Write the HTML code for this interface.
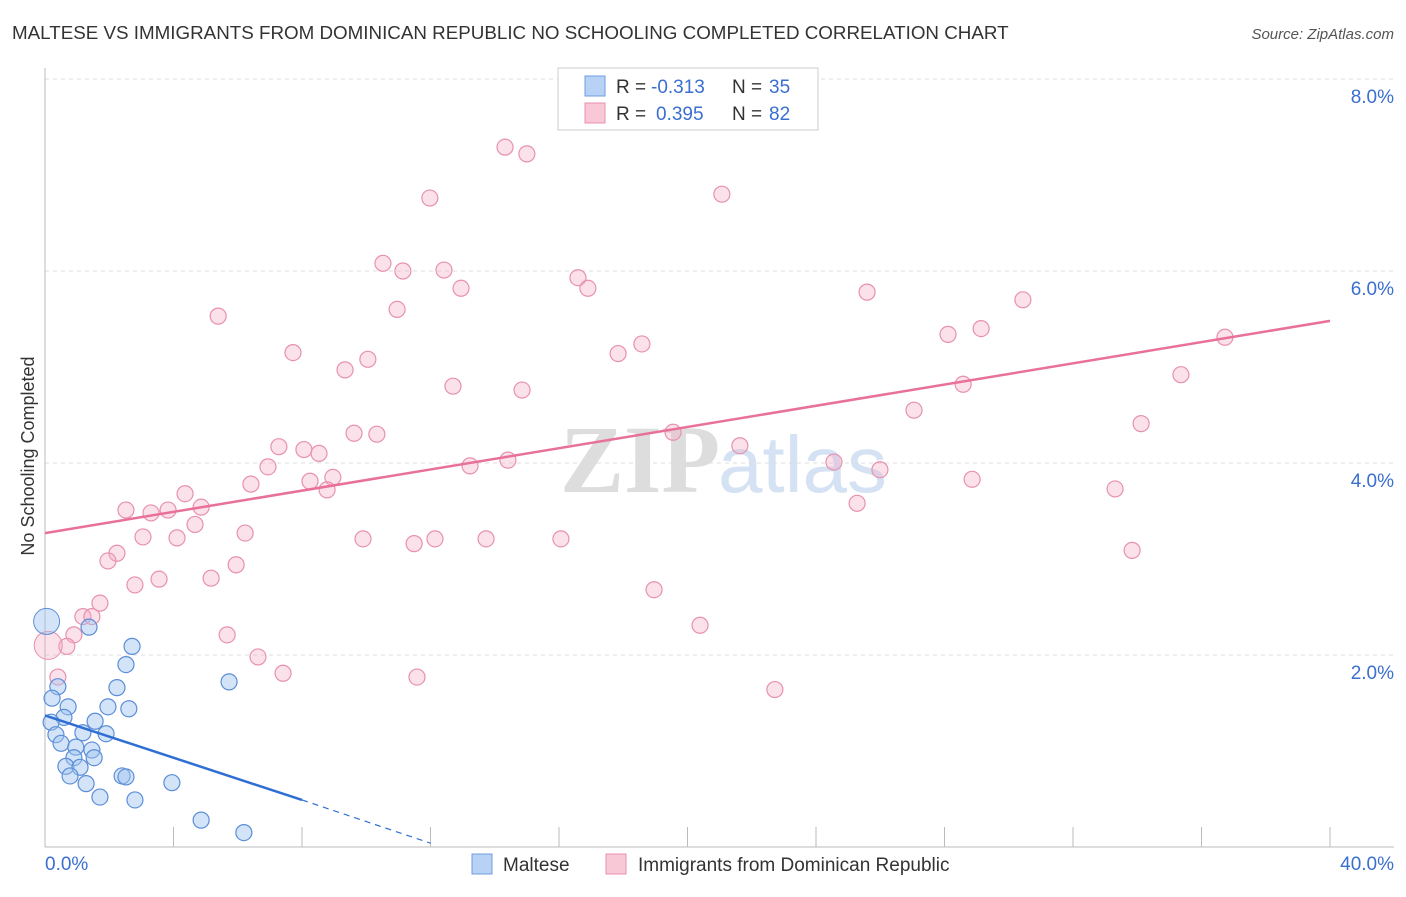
<!DOCTYPE html>
<html><head><meta charset="utf-8"><style>
body{margin:0;background:#fff;font-family:"Liberation Sans",sans-serif}
</style></head><body>
<svg id="c" width="1406" height="892" xmlns="http://www.w3.org/2000/svg">
<text x="12" y="39" font-size="18.8" fill="#333">MALTESE VS IMMIGRANTS FROM DOMINICAN REPUBLIC NO SCHOOLING COMPLETED CORRELATION CHART</text>
<text x="1394" y="39" font-size="15" fill="#555" font-style="italic" text-anchor="end">Source: ZipAtlas.com</text>
<text x="720" y="492" font-size="96" fill="#ddd" text-anchor="end" font-family="Liberation Serif" font-weight="bold">ZIP</text>
<text x="718" y="492" font-size="80" fill="#d4e2f4">atlas</text>
<text transform="translate(34,456) rotate(-90)" font-size="18" fill="#333" text-anchor="middle">No Schooling Completed</text>
<g id="grid"></g><g id="marks"></g>
<g>
<rect x="558" y="68" width="260" height="62" fill="#fff" stroke="#ccc"/>
<rect x="585" y="76" width="20" height="20" fill="#b8d2f5" stroke="#6d9de0"/>
<rect x="585" y="103" width="20" height="20" fill="#f8c8d6" stroke="#e891ad"/>
<text x="616" y="93" font-size="19" fill="#333">R =</text>
<text x="651" y="93" font-size="19" fill="#3a6fd0">-0.313</text>
<text x="732" y="93" font-size="19" fill="#333">N =</text>
<text x="769" y="93" font-size="19" fill="#3a6fd0">35</text>
<text x="616" y="120" font-size="19" fill="#333">R =</text>
<text x="656" y="120" font-size="19" fill="#3a6fd0">0.395</text>
<text x="732" y="120" font-size="19" fill="#333">N =</text>
<text x="769" y="120" font-size="19" fill="#3a6fd0">82</text>
</g>
<g>
<rect x="472" y="854" width="20" height="20" fill="#b8d2f5" stroke="#6d9de0"/>
<text x="503" y="871" font-size="19" fill="#333">Maltese</text>
<rect x="606" y="854" width="20" height="20" fill="#f8c8d6" stroke="#e891ad"/>
<text x="638" y="871" font-size="19" fill="#333">Immigrants from Dominican Republic</text>
</g>
<text x="45" y="870" font-size="19" fill="#3a6fd0">0.0%</text>
<text x="1394" y="870" font-size="19" fill="#3a6fd0" text-anchor="end">40.0%</text>
</svg>
<script>
const yTicks=[2,4,6,8];
const yTickLabels=["2.0%","4.0%","6.0%","8.0%"];
const pinkPx=[[505,147],[527,154],[430,198],[722,194],[383,263],[403,271],[444,270],[578,278],[588,288],[461,288],[867,292],[1023,300],[218,316],[397,309],[981,329],[948,334],[1225,337],[642,344],[618,354],[293,353],[368,359],[345,370],[1181,375],[963,384],[453,386],[522,390],[914,410],[1141,424],[354,433],[377,434],[673,432],[279,447],[304,450],[319,453],[740,446],[268,467],[470,466],[508,460],[834,462],[880,470],[251,484],[310,481],[333,477],[327,490],[972,479],[1115,489],[185,494],[201,507],[126,510],[151,513],[168,510],[857,503],[195,524],[143,537],[177,538],[245,533],[363,539],[414,544],[435,539],[486,539],[561,539],[1132,550],[117,553],[108,561],[236,565],[159,579],[211,578],[135,585],[654,590],[100,603],[83,617],[92,617],[74,635],[227,635],[700,625],[67,646],[258,657],[283,673],[417,677],[58,677],[775,690]];
const bluePx=[[89,627],[132,646],[126,665],[229,682],[58,687],[117,688],[52,698],[68,707],[108,707],[129,709],[64,717],[51,722],[95,721],[83,733],[106,734],[56,735],[61,743],[76,747],[92,750],[74,758],[94,758],[66,766],[80,767],[70,776],[122,776],[126,777],[172,783],[86,784],[100,797],[135,800],[201,820],[244,833]];
const pinkX=pinkPx.map(p=>+((p[0]-45)/32.125).toFixed(2));
const pinkY=pinkPx.map(p=>+((847-p[1])/96).toFixed(2));
const blueX=bluePx.map(p=>+((p[0]-45)/32.125).toFixed(2));
const blueY=bluePx.map(p=>+((847-p[1])/96).toFixed(2));
const pinkTrend=[[0,3.27],[40,5.48]];
const blueTrend=[[0,1.37],[8,0.49],[12,0.04]];
const X=v=>45+v*32.125, Y=v=>847-v*96;
const NS="http://www.w3.org/2000/svg";
function mk(t,a,parent){const e=document.createElementNS(NS,t);for(const k in a)e.setAttribute(k,a[k]);parent.appendChild(e);return e;}
const g=document.getElementById('grid'),m=document.getElementById('marks');
yTicks.forEach((t,i)=>{
 const l=mk('line',{x1:45,x2:1394,y1:Y(t),y2:Y(t),stroke:'#ddd','stroke-dasharray':'4,4'},g);
 
 
 const tx=mk('text',{x:1394,y:Y(t)+24,'font-size':19,fill:'#3a6fd0','text-anchor':'end'},g);
 tx.textContent=yTickLabels[i];
 
 
});
mk('line',{x1:45,x2:45,y1:68,y2:847,stroke:'#bbb'},g);
mk('line',{x1:45,x2:1394,y1:847,y2:847,stroke:'#bbb'},g);
for(let i=0;i<=10;i++){const t=mk('line',{x1:X(i*4),x2:X(i*4),y1:827,y2:847,stroke:'#bbb'},g);
 
 }
pinkX.forEach((x,i)=>{const c=mk('circle',{cx:X(x),cy:Y(pinkY[i]),r:8,fill:'rgba(244,170,195,0.35)',stroke:'#e891ad','stroke-width':1.2},m);
 
 });
const bp=mk('circle',{cx:X(0.1),cy:Y(2.1),r:14,fill:'rgba(244,170,195,0.35)',stroke:'#e891ad'},m);


blueX.forEach((x,i)=>{const c=mk('circle',{cx:X(x),cy:Y(blueY[i]),r:8,fill:'rgba(160,195,240,0.45)',stroke:'#5b8ed8','stroke-width':1.2},m);
 
 });
const bb=mk('circle',{cx:X(0.05),cy:Y(2.35),r:13,fill:'rgba(160,195,240,0.45)',stroke:'#5b8ed8'},m);


const pl=mk('line',{x1:X(pinkTrend[0][0]),y1:Y(pinkTrend[0][1]),x2:X(pinkTrend[1][0]),y2:Y(pinkTrend[1][1]),stroke:'#e8709a','stroke-width':2.5},m);


const bl=mk('line',{x1:X(blueTrend[0][0]),y1:Y(blueTrend[0][1]),x2:X(blueTrend[1][0]),y2:Y(blueTrend[1][1]),stroke:'#2f6fd4','stroke-width':2.5},m);


const bd=mk('line',{x1:X(blueTrend[1][0]),y1:Y(blueTrend[1][1]),x2:X(blueTrend[2][0]),y2:Y(blueTrend[2][1]),stroke:'#2f6fd4','stroke-width':1.2,'stroke-dasharray':'6,5'},m);


</script>
</body></html>
